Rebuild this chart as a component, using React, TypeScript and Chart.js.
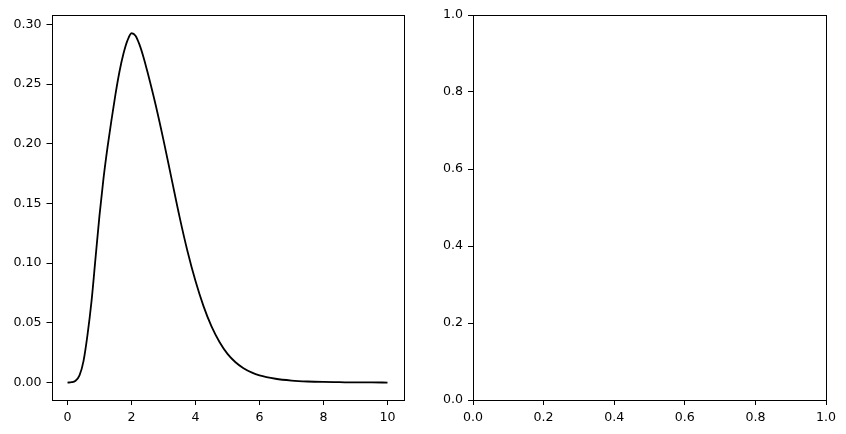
import React, { useEffect, useRef } from "react";
import { Chart, registerables } from "chart.js";

Chart.register(...registerables);

// Curve (left panel)
const xValues = [
  0, 0.125, 0.25, 0.375, 0.5, 0.625, 0.75, 0.875, 1.0, 1.125, 1.25, 1.375, 1.5,
  1.625, 1.75, 1.875, 2.0, 2.125, 2.25, 2.375, 2.5, 2.75, 3.0, 3.25, 3.5, 3.75,
  4.0, 4.25, 4.5, 4.75, 5.0, 5.25, 5.5, 5.75, 6.0, 6.5, 7.0, 7.5, 8.0, 8.5, 9.0,
  9.5, 10.0,
];
const yValues = [
  0, 0.0003, 0.0015, 0.006, 0.018, 0.04, 0.068, 0.104, 0.14, 0.171, 0.197,
  0.22, 0.2415, 0.2605, 0.2755, 0.2865, 0.2925, 0.2905, 0.283, 0.2725, 0.26,
  0.233, 0.203, 0.171, 0.139, 0.11, 0.085, 0.064, 0.047, 0.034, 0.024, 0.017,
  0.012, 0.0085, 0.006, 0.0032, 0.0017, 0.0009, 0.0005, 0.0003, 0.0001, 0.0001,
  0,
];

const leftXTicks = [0, 2, 4, 6, 8, 10];
const leftYTicks = [0, 0.05, 0.1, 0.15, 0.2, 0.25, 0.3];
const rightTicks = [0, 0.2, 0.4, 0.6, 0.8, 1.0];

const FONT = { family: "'DejaVu Sans', sans-serif", size: 12.6 };

const framePlugin = {
  id: "frame",
  afterDraw(chart: any) {
    const { ctx, chartArea } = chart;
    ctx.save();
    ctx.strokeStyle = "#000";
    ctx.lineWidth = 1;
    const l = Math.round(chartArea.left) + 0.5;
    const t = Math.round(chartArea.top) + 0.5;
    const r = Math.round(chartArea.right) + 0.5;
    const b = Math.round(chartArea.bottom) + 0.5;
    ctx.strokeRect(l, t, r - l, b - t);
    ctx.restore();
  },
};

function axis(
  position: "bottom" | "left",
  min: number,
  max: number,
  tickValues: number[],
  decimals: number,
  size: number
) {
  return {
    type: "linear",
    position,
    min,
    max,
    afterBuildTicks: (scale: any) => {
      scale.ticks = tickValues.map((v) => ({ value: v }));
    },
    afterFit: (scale: any) => {
      if (position === "left") scale.width = size;
      else scale.height = size;
    },
    grid: {
      display: true,
      drawOnChartArea: false,
      drawTicks: true,
      tickLength: 5,
      color: "#000",
      lineWidth: 1,
    },
    border: { display: false },
    ticks: {
      color: "#000",
      font: FONT,
      padding: 5,
      maxRotation: 0,
      autoSkip: false,
      callback: (v: any) => Number(v).toFixed(decimals),
    },
  };
}

function LeftChart() {
  const ref = useRef<HTMLCanvasElement>(null);
  useEffect(() => {
    const chart = new Chart(ref.current!, {
      type: "line",
      data: {
        datasets: [
          {
            data: xValues.map((x, i) => ({ x, y: yValues[i] })),
            borderColor: "#000",
            borderWidth: 1.8,
            pointRadius: 0,
            cubicInterpolationMode: "monotone",
            fill: false,
          },
        ],
      },
      options: {
        animation: false,
        responsive: false,
        devicePixelRatio: 1,
        layout: { padding: { left: 0, right: 16.5, top: 15, bottom: 0 } },
        plugins: { legend: { display: false }, tooltip: { enabled: false } },
        scales: {
          x: axis("bottom", -0.5, 10.5, leftXTicks, 0, 34) as any,
          y: axis("left", -0.0146, 0.3078, leftYTicks, 2, 51.5) as any,
        },
      },
      plugins: [framePlugin],
    });
    return () => chart.destroy();
  }, []);
  return (
    <canvas
      ref={ref}
      width={420}
      height={434}
      style={{ position: "absolute", left: 0, top: 0, width: 420, height: 434 }}
    />
  );
}

function RightChart() {
  const ref = useRef<HTMLCanvasElement>(null);
  useEffect(() => {
    const chart = new Chart(ref.current!, {
      type: "line",
      data: { datasets: [{ data: [] }] },
      options: {
        animation: false,
        responsive: false,
        devicePixelRatio: 1,
        layout: { padding: { left: 0, right: 20, top: 15, bottom: 0 } },
        plugins: { legend: { display: false }, tooltip: { enabled: false } },
        scales: {
          x: axis("bottom", 0, 1, rightTicks, 1, 34) as any,
          y: axis("left", 0, 1, rightTicks, 1, 53) as any,
        },
      },
      plugins: [framePlugin],
    });
    return () => chart.destroy();
  }, []);
  return (
    <canvas
      ref={ref}
      width={426}
      height={434}
      style={{ position: "absolute", left: 420, top: 0, width: 426, height: 434 }}
    />
  );
}

export default function App() {
  return (
    <div
      style={{
        position: "fixed",
        left: 0,
        top: 0,
        width: 846,
        height: 434,
        background: "#fff",
        overflow: "hidden",
      }}
    >
      <LeftChart />
      <RightChart />
    </div>
  );
}
